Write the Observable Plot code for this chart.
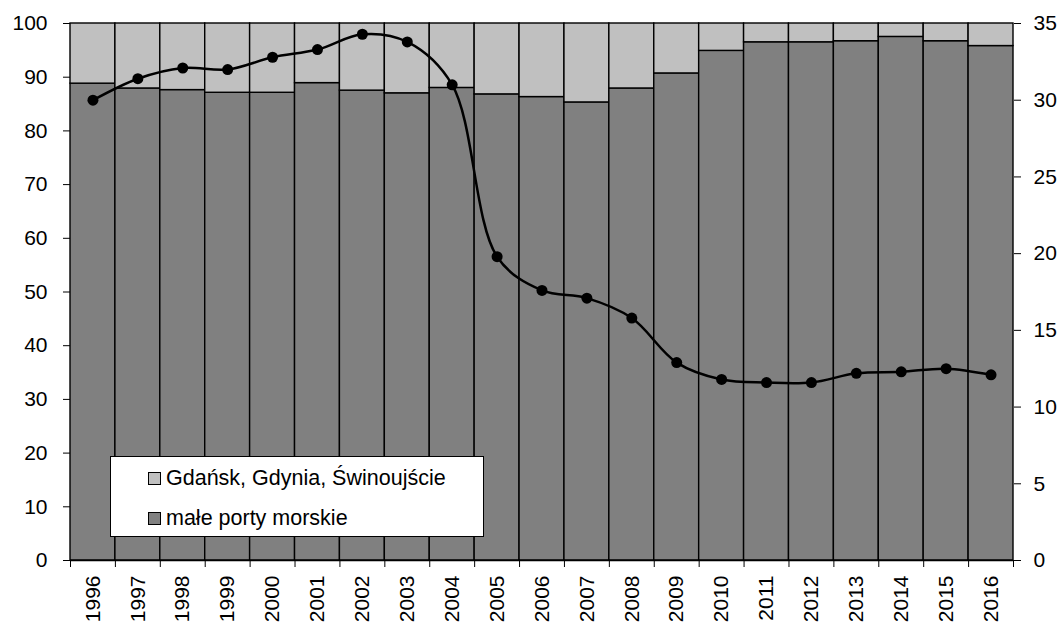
<!DOCTYPE html>
<html>
<head>
<meta charset="utf-8">
<script src="https://cdn.jsdelivr.net/npm/d3@7"></script>
<script src="https://cdn.jsdelivr.net/npm/@observablehq/plot@0.6"></script>
<style>
  body { margin: 0; background: #fff; font-family: "Liberation Sans", Arial, sans-serif; }
  #wrap { position: relative; width: 1062px; height: 626px; }
  #legend { position: absolute; left: 110px; top: 456px; width: 374px; height: 81px;
            background: #fff; border: 1px solid #000; box-sizing: border-box; font-size: 21.5px; color: #000; }
  .row { position: absolute; left: 37px; display: flex; align-items: center; height: 24px; }
  .sw { width: 11px; height: 11px; border: 1px solid #000; margin-right: 5px; }
</style>
</head>
<body>
<div id="wrap"></div>
<script>
const years = ["1996","1997","1998","1999","2000","2001","2002","2003","2004","2005","2006","2007","2008","2009","2010","2011","2012","2013","2014","2015","2016"];
// udział (%) – małe porty morskie (ciemne słupki)
const smallPorts = [88.8, 87.9, 87.6, 87.1, 87.1, 88.9, 87.5, 87.0, 88.0, 86.8, 86.3, 85.3, 87.9, 90.7, 94.9, 96.5, 96.5, 96.7, 97.5, 96.7, 95.8];
// udział (%) – Gdańsk, Gdynia, Świnoujście (jasne słupki)
const bigPorts = [11.2, 12.1, 12.4, 12.9, 12.9, 11.1, 12.5, 13.0, 12.0, 13.2, 13.7, 14.7, 12.1, 9.3, 5.1, 3.5, 3.5, 3.3, 2.5, 3.3, 4.2];
// linia – oś prawa (0–35)
const lineValues = [30.0, 31.4, 32.1, 32.0, 32.8, 33.3, 34.3, 33.8, 31.0, 19.8, 17.6, 17.1, 15.8, 12.9, 11.8, 11.6, 11.6, 12.2, 12.3, 12.5, 12.1];
const seriesNames = ["małe porty morskie", "Gdańsk, Gdynia, Świnoujście"];
const seriesColors = ["#808080", "#c0c0c0"];
const leftTicks = [0, 10, 20, 30, 40, 50, 60, 70, 80, 90, 100];
const rightTicks = [0, 5, 10, 15, 20, 25, 30, 35];
const rightMax = 35;

const rows = [];
years.forEach((y, i) => {
  rows.push({ i, series: seriesNames[0], value: smallPorts[i] });
  rows.push({ i, series: seriesNames[1], value: bigPorts[i] });
});
const pts = years.map((y, i) => ({ i, v: lineValues[i] }));
const toLeft = v => v * 100 / rightMax;

const chart = Plot.plot({
  width: 1062,
  height: 626,
  marginLeft: 70,
  marginRight: 49,
  marginTop: 23,
  marginBottom: 66,
  style: { fontFamily: "'Liberation Sans', Arial, sans-serif", fontSize: "21px", color: "#000", background: "#fff" },
  x: { type: "linear", domain: [0, years.length] },
  y: { domain: [0, 100] },
  color: { domain: seriesNames, range: seriesColors },
  marks: [
    Plot.rectY(rows, { x1: d => d.i, x2: d => d.i + 1, y: "value", fill: "series", stroke: "#000", strokeWidth: 1.4 }),
    Plot.line(pts, { x: d => d.i + 0.5, y: d => toLeft(d.v), curve: "catmull-rom", stroke: "#000", strokeWidth: 2.5 }),
    Plot.dot(pts, { x: d => d.i + 0.5, y: d => toLeft(d.v), r: 5.5, fill: "#000", stroke: "none" }),
    Plot.ruleY([0], { stroke: "#000", strokeWidth: 1.5 }),
    Plot.axisY(leftTicks, { anchor: "left", tickSize: 7, tickPadding: 16, fontSize: 21, label: null, stroke: "#000" }),
    Plot.axisY(rightTicks.map(toLeft), { anchor: "right", tickSize: 7, tickPadding: 13, fontSize: 21, label: null,
      tickFormat: d => String(Math.round(d * rightMax / 100)) }),
    Plot.axisX(d3.range(years.length + 1), { anchor: "bottom", tickSize: 7, tickFormat: () => "", label: null }),
    Plot.axisX(years.map((y, i) => i + 0.5), { anchor: "bottom", tickSize: 0, tickPadding: 15, tickRotate: -90, fontSize: 21,
      tickFormat: d => years[Math.round(d - 0.5)], label: null })
  ]
});
const wrap = document.getElementById("wrap");
wrap.appendChild(chart);

const legend = document.createElement("div");
legend.id = "legend";
[[seriesNames[1], seriesColors[1], 9], [seriesNames[0], seriesColors[0], 49]].forEach(([name, col, top]) => {
  const r = document.createElement("div");
  r.className = "row";
  r.style.top = top + "px";
  const sw = document.createElement("div");
  sw.className = "sw";
  sw.style.background = col;
  const t = document.createElement("span");
  t.textContent = name;
  r.appendChild(sw); r.appendChild(t);
  legend.appendChild(r);
});
wrap.appendChild(legend);
</script>
</body>
</html>
